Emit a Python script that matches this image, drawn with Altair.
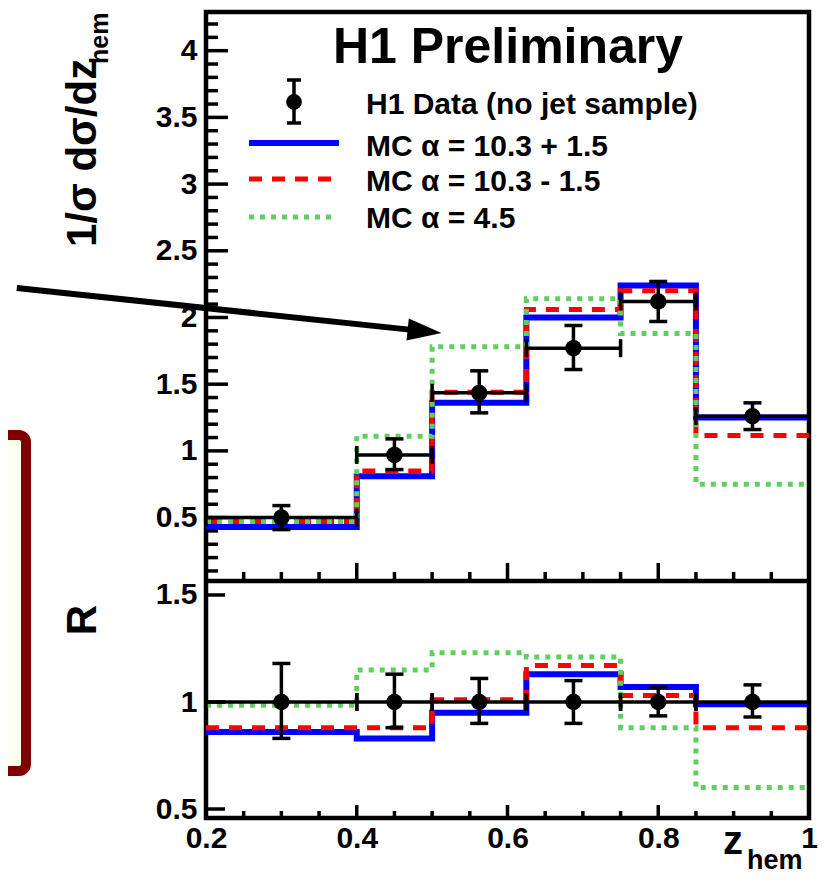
import altair as alt
import pandas as pd

# ---------------- data ----------------
edges = [0.2, 0.4, 0.5, 0.625, 0.75, 0.85, 1.0]
centers = [0.3, 0.45, 0.5625, 0.6875, 0.8, 0.925]

# upper panel: 1/sigma dsigma/dz_hem
data_val = [0.50, 0.97, 1.435, 1.77, 2.12, 1.26]
data_hi = [0.59, 1.09, 1.60, 1.94, 2.27, 1.36]
data_lo = [0.41, 0.86, 1.285, 1.61, 1.97, 1.16]
mc_plus = [0.43, 0.81, 1.36, 2.00, 2.24, 1.25]
mc_minus = [0.47, 0.85, 1.44, 2.06, 2.20, 1.115]
mc_45 = [0.47, 1.11, 1.78, 2.14, 1.88, 0.75]

# lower panel: ratio R
r_val = [1.0, 1.0, 1.0, 1.0, 1.0, 1.0]
r_hi = [1.18, 1.13, 1.11, 1.10, 1.07, 1.08]
r_lo = [0.83, 0.88, 0.90, 0.90, 0.935, 0.93]
r_plus = [0.86, 0.83, 0.95, 1.13, 1.07, 0.99]
r_minus = [0.88, 0.88, 1.01, 1.17, 1.03, 0.88]
r_45 = [0.985, 1.15, 1.23, 1.21, 0.88, 0.60]

legend_labels = ["H1 Data (no jet sample)", "MC \u03b1 = 10.3 + 1.5",
                 "MC \u03b1 = 10.3 - 1.5", "MC \u03b1 = 4.5"]
title_text = "H1 Preliminary"

x_tick_labels = [0.2, 0.4, 0.6, 0.8, 1.0]
y_top_labels = [0.5, 1.0, 1.5, 2.0, 2.5, 3.0, 3.5, 4.0]
y_bot_labels = [0.5, 1.0, 1.5]
x_minor = [0.25, 0.3, 0.35, 0.45, 0.5, 0.55, 0.65, 0.7, 0.75, 0.85, 0.9, 0.95]
y_top_minor = [round(0.1 * i, 1) for i in range(1, 43) if i % 5 != 0]

# arrow (in data coordinates of the upper panel)
arrow_start = (-0.051, 2.221)
arrow_end = (0.473, 1.907)
arrow_tip = (0.5124, 1.884)

# ---------------- styling ----------------
FONT = "Liberation Sans"
BLUE, RED, GREEN = "#0000ff", "#ff0000", "#5fcf5f"
TOP_BOTTOM = 0.025   # value of the upper panel at the panel boundary
BOT_BOTTOM = 0.458   # value of the lower panel at the bottom frame

XS = alt.Scale(domain=[0.2, 1.0], nice=False, zero=False)
YT = alt.Scale(domain=[-1.752, 4.29], nice=False, zero=False)
YB = alt.Scale(domain=[0.458, 4.224], nice=False, zero=False)

lab = dict(labelFont=FONT, labelFontSize=30, labelFontWeight="bold",
           labelColor="black", grid=False, domain=False, ticks=False,
           tickSize=0, title=None, labelExpr="format(datum.value, '.2~g')",
           labelOverlap=False)
x_axis = alt.Axis(values=x_tick_labels, labelFlush=False, labelPadding=5, **lab)
yt_axis = alt.Axis(orient="left", values=y_top_labels, labelPadding=9, **lab)
yb_axis = alt.Axis(orient="left", values=y_bot_labels, labelPadding=9, **lab)


def X(f):
    return alt.X(f, type="quantitative", scale=XS, axis=x_axis)


def YTf(f):
    return alt.Y(f, type="quantitative", scale=YT, axis=yt_axis)


def YBf(f):
    return alt.Y(f, type="quantitative", scale=YB, axis=yb_axis)


def step_df(vals):
    return pd.DataFrame({"x": edges, "y": list(vals) + [vals[-1]]})


def panel(vals, lo, hi, mcs, yf, bottom_val, xmaj, xmin, ymaj, ymin, ymaj_vals, ymin_vals):
    layers = []
    styles = [(BLUE, 6, None), (RED, 5, [13, 10]), (GREEN, 5, [5, 6])]
    for mc, (col, sw, dash) in zip(mcs, styles):
        kw = dict(interpolate="step-after", color=col, strokeWidth=sw, strokeCap="butt")
        if dash:
            kw["strokeDash"] = dash
        layers.append(alt.Chart(step_df(mc)).mark_line(**kw).encode(x=X("x"), y=yf("y")))
    pts = pd.DataFrame({"c": centers, "v": vals, "lo": lo, "hi": hi,
                        "x0": edges[:-1], "x1": edges[1:]})
    base = alt.Chart(pts)
    layers.append(base.mark_rule(color="black", strokeWidth=3.5).encode(
        x=X("x0"), x2=alt.X2("x1"), y=yf("v")))
    layers.append(base.mark_rule(color="black", strokeWidth=3.5).encode(
        x=X("c"), y=yf("lo"), y2=alt.Y2("hi")))
    vcaps = pd.DataFrame({"x": centers * 2, "y": list(lo) + list(hi)})
    layers.append(alt.Chart(vcaps).mark_tick(orient="horizontal", size=18, thickness=3.5,
                                             color="black", opacity=1).encode(x=X("x"), y=yf("y")))
    hcaps = pd.DataFrame({"x": edges[:-1] + edges[1:], "y": list(vals) * 2})
    layers.append(alt.Chart(hcaps).mark_tick(orient="vertical", size=18, thickness=3.5,
                                             color="black", opacity=1).encode(x=X("x"), y=yf("y")))
    layers.append(base.mark_point(shape="circle", filled=True, size=270, color="black",
                                  opacity=1).encode(x=X("c"), y=yf("v")))
    # inward ticks on the left frame
    for values, size in ((ymaj_vals, ymaj), (ymin_vals, ymin)):
        if not values or not size:
            continue
        d = pd.DataFrame({"x": [0.2] * len(values), "y": values})
        layers.append(alt.Chart(d).mark_tick(orient="horizontal", size=size, thickness=3.5,
                                             xOffset=size / 2, color="black", opacity=1)
                      .encode(x=X("x"), y=yf("y")))
    # inward ticks on the bottom edge of the panel
    for values, size in (([0.4, 0.6, 0.8], xmaj), (x_minor, xmin)):
        d = pd.DataFrame({"x": values, "y": [bottom_val] * len(values)})
        layers.append(alt.Chart(d).mark_tick(orient="vertical", size=size, thickness=3.5,
                                             yOffset=-size / 2, color="black", opacity=1)
                      .encode(x=X("x"), y=yf("y")))
    return layers


top_layers = panel(data_val, data_lo, data_hi, [mc_plus, mc_minus, mc_45], YTf, TOP_BOTTOM,
                   18, 9, 22, 12, y_top_labels, y_top_minor)
# panel boundary line
bnd = pd.DataFrame({"x0": [0.2], "x1": [1.0], "y": [TOP_BOTTOM]})
top_layers.append(alt.Chart(bnd).mark_rule(color="black", strokeWidth=4.5).encode(
    x=X("x0"), x2=alt.X2("x1"), y=YTf("y")))
# arrow
arr = pd.DataFrame({"x0": [arrow_start[0]], "y0": [arrow_start[1]],
                    "x1": [arrow_end[0]], "y1": [arrow_end[1]],
                    "xt": [arrow_tip[0]], "yt": [arrow_tip[1]]})
top_layers.append(alt.Chart(arr).mark_rule(color="black", strokeWidth=6, strokeCap="butt").encode(
    x=X("x0"), x2=alt.X2("x1"), y=YTf("y0"), y2=alt.Y2("y1")))
top_layers.append(alt.Chart(arr).mark_point(shape="M0,0 L-2,-0.65 L-2,0.65 Z", filled=True,
                                            size=1156, angle=6, color="black", opacity=1)
                  .encode(x=X("xt"), y=YTf("yt")))
top = alt.layer(*top_layers)

bot_layers = panel(r_val, r_lo, r_hi, [r_plus, r_minus, r_45], YBf, BOT_BOTTOM,
                   13, 7, 19, 0, y_bot_labels, [])
bottom = alt.layer(*bot_layers)

# ---------------- decorations (pixel positions in the plot frame) ----------------
one = pd.DataFrame({"a": [0]})
deco = []
# cropped annotation box on the left
deco.append(alt.Chart(one).mark_rect(fill="#fffff0", stroke="#800000", strokeWidth=10,
                                     cornerRadius=7).encode(
    x=alt.value(-240), x2=alt.value(-180), y=alt.value(423), y2=alt.value(759)))


def txt(s, x, y, size, align="left", angle=0, baseline="alphabetic"):
    return alt.Chart(one).mark_text(text=s, font=FONT, fontSize=size, fontWeight="bold",
                                    color="black", align=align, baseline=baseline,
                                    angle=angle).encode(x=alt.value(x), y=alt.value(y))


deco.append(txt(title_text, 302, 51, 50, align="center"))
leg_y = [90, 131, 167, 205]
leg_base = [101, 143, 178, 215]
for s, b in zip(legend_labels, leg_base):
    deco.append(txt(s, 160, b + 1, 30))
deco.append(alt.Chart(one).mark_rule(color=BLUE, strokeWidth=6, strokeCap="butt").encode(
    x=alt.value(43), x2=alt.value(133), y=alt.value(leg_y[1])))
deco.append(alt.Chart(one).mark_rule(color=RED, strokeWidth=5, strokeCap="butt",
                                     strokeDash=[13, 10]).encode(
    x=alt.value(43), x2=alt.value(128), y=alt.value(leg_y[2])))
deco.append(alt.Chart(one).mark_rule(color=GREEN, strokeWidth=5, strokeCap="butt",
                                     strokeDash=[5, 6]).encode(
    x=alt.value(43), x2=alt.value(131), y=alt.value(leg_y[3])))
deco.append(alt.Chart(one).mark_rule(color="black", strokeWidth=3.5).encode(
    x=alt.value(88), y=alt.value(68), y2=alt.value(111)))
for yy in (68, 111):
    deco.append(alt.Chart(one).mark_rule(color="black", strokeWidth=3.5).encode(
        x=alt.value(81), x2=alt.value(95), y=alt.value(yy)))
deco.append(alt.Chart(one).mark_point(shape="circle", filled=True, size=250, color="black",
                                      opacity=1).encode(x=alt.value(88), y=alt.value(leg_y[0])))

# axis titles
deco.append(txt("1/\u03c3 d\u03c3/dz", -110, 235, 42, angle=270))
deco.append(txt("hem", -98, 52, 25, angle=270))
deco.append(txt("R", -110, 608, 42, align="center", angle=270))
deco.append(txt("z", 517, 842, 40))
deco.append(txt("hem", 541, 857, 27))

chart = alt.layer(top, bottom, *deco).resolve_scale(y="independent").properties(
    width=603, height=806,
    autosize=alt.AutoSizeParams(type="none"),
    padding={"left": 198, "top": 4, "right": 9, "bottom": 60},
    background="white",
).configure_view(stroke="black", strokeWidth=4.5)

chart.save("out.html", embed_options={"renderer": "svg", "actions": False})
